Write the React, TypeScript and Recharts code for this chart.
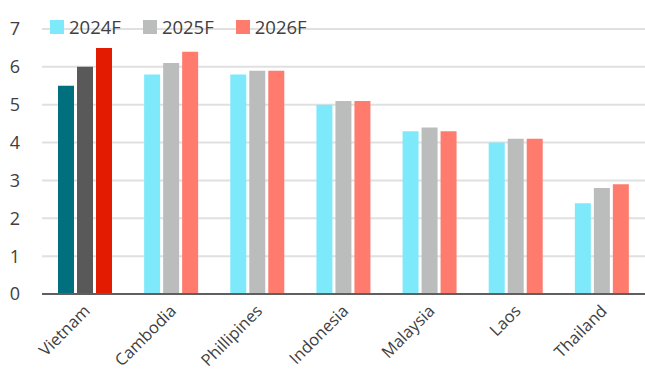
import { BarChart, Bar, XAxis, YAxis, CartesianGrid, Cell } from 'recharts';

const countries = ['Vietnam', 'Cambodia', 'Phillipines', 'Indonesia', 'Malaysia', 'Laos', 'Thailand'];
const f2024 = [5.5, 5.8, 5.8, 5.0, 4.3, 4.0, 2.4];
const f2025 = [6.0, 6.1, 5.9, 5.1, 4.4, 4.1, 2.8];
const f2026 = [6.5, 6.4, 5.9, 5.1, 4.3, 4.1, 2.9];
const yTicks = [0, 1, 2, 3, 4, 5, 6, 7];

const series = [
  { key: 'y2024', name: '2024F', color: '#7DE9FB', hl: '#00707F' },
  { key: 'y2025', name: '2025F', color: '#BBBDBD', hl: '#595959' },
  { key: 'y2026', name: '2026F', color: '#FF7B6E', hl: '#E31B00' },
];

const data = countries.map((c, i) => ({ country: c, y2024: f2024[i], y2025: f2025[i], y2026: f2026[i] }));

const FONT = '"Open Sans", sans-serif';
const TXT = '#404040';

const XTick = (props: any) => {
  const { x, y, payload } = props;
  return (
    <text x={x + 6} y={y + 10} transform={`rotate(-45, ${x + 6}, ${y + 10})`} textAnchor="end" fill={TXT} fontSize={16.5} fontFamily={FONT}>
      {payload.value}
    </text>
  );
};

export default function App() {
  return (
    <div style={{ position: 'absolute', left: 0, top: 0, width: 645, height: 384, background: '#fff', fontFamily: FONT }}>
      <BarChart width={645} height={384} data={data} margin={{ top: 29, right: 0, bottom: 0, left: 0 }} barSize={16} barGap={3}>
        <CartesianGrid vertical={false} stroke="#E0E0E0" strokeWidth={2} />
        <YAxis domain={[0, 7]} ticks={yTicks} width={42} axisLine={false} tickLine={false} tickSize={0} tickMargin={22}
          tick={{ fill: TXT, fontSize: 18, fontFamily: FONT }} />
        <XAxis dataKey="country" height={90} interval={0} axisLine={{ stroke: '#5F5F5F', strokeWidth: 2 }} tickLine={false} tick={<XTick />} />
        {series.map((s) => (
          <Bar key={s.key} dataKey={s.key} name={s.name} fill={s.color} isAnimationActive={false}>
            {data.map((d, i) => <Cell key={`c-${i}`} fill={i === 0 ? s.hl : s.color} />)}
          </Bar>
        ))}
      </BarChart>
      <div style={{ position: 'absolute', left: 50, top: 17, display: 'flex', gap: 22, alignItems: 'center' }}>
        {series.map((s) => (
          <div key={s.key} style={{ display: 'flex', alignItems: 'center', gap: 5 }}>
            <div style={{ width: 14, height: 14, background: s.color }} />
            <span style={{ color: TXT, fontSize: 18.5, lineHeight: '20px' }}>{s.name}</span>
          </div>
        ))}
      </div>
    </div>
  );
}
